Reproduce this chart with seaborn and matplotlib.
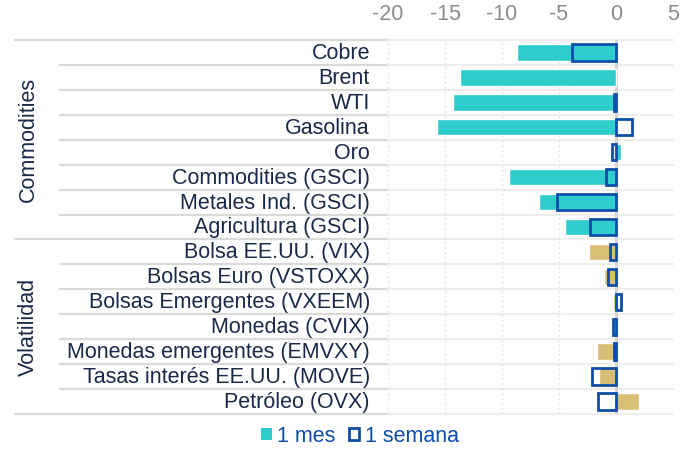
import pandas as pd
import matplotlib.pyplot as plt
import matplotlib.transforms as mtransforms
from matplotlib.patches import Patch
import seaborn as sns

# Datos (variación, puntos)
categorias = ["Cobre", "Brent", "WTI", "Gasolina", "Oro", "Commodities (GSCI)",
              "Metales Ind. (GSCI)", "Agricultura (GSCI)",
              "Bolsa EE.UU. (VIX)", "Bolsas Euro (VSTOXX)", "Bolsas Emergentes (VXEEM)",
              "Monedas (CVIX)", "Monedas emergentes (EMVXY)",
              "Tasas interés EE.UU. (MOVE)", "Petróleo (OVX)"]
grupos = ["Commodities"] * 8 + ["Volatilidad"] * 7
mes_1 = [-8.7, -13.7, -14.3, -15.7, 0.4, -9.4, -6.75, -4.5,
         -2.4, -1.05, -0.25, 0.0, -1.65, -1.5, 2.0]
semana_1 = [-3.9, None, -0.2, 1.4, -0.35, -0.9, -5.2, -2.3,
            -0.55, -0.7, 0.4, -0.3, -0.2, -2.1, -1.6]
ticks_x = [-20, -15, -10, -5, 0, 5]

turquesa = "#2ECCCC"
arena = "#D9BE76"
azul = "#0F4EA8"
texto = "#1A2947"
gris = "#8C8C8C"
fs = 15.5

df = pd.DataFrame({"Categoria": categorias, "Grupo": grupos,
                   "1 mes": mes_1, "1 semana": semana_1})

sns.set_theme(style="white")
plt.rcParams['font.family'] = ['Liberation Sans', 'DejaVu Sans']
plt.rcParams['axes.unicode_minus'] = False

W, H = 687, 449
fig = plt.figure(figsize=(W / 100, H / 100), dpi=100)
ax = fig.add_axes([388 / W, 1 - 414 / H, 285 / W, 374 / H])

# Rejilla vertical y línea del cero
for t in ticks_x:
    if t == 0:
        ax.axvline(0, color="#D6D6D6", lw=2.2, zorder=2)
    else:
        ax.axvline(t, color="#E4E4E4", lw=1, ls=(0, (1.5, 2)), zorder=1)

sns.barplot(data=df, y="Categoria", x="1 mes", hue="Grupo",
            palette={"Commodities": turquesa, "Volatilidad": arena},
            dodge=False, saturation=1, width=0.66, legend=False,
            errorbar=None, ax=ax, zorder=3)
sns.barplot(data=df, y="Categoria", x="1 semana", fill=False, color=azul,
            width=0.66, linewidth=2.0, errorbar=None, ax=ax, zorder=4)

ax.set_xlim(-20, 5)
ax.set_ylim(14.5, -0.5)
ax.set_xticks(ticks_x)
ax.xaxis.tick_top()
ax.tick_params(axis="x", length=0, pad=11, labelsize=fs, labelcolor=gris)
ax.tick_params(axis="y", length=0, pad=13, labelsize=fs, labelcolor=texto)
ax.set_xlabel("")
ax.set_ylabel("")
for s in ax.spines.values():
    s.set_visible(False)

# subir un poco las etiquetas de categoría
subir = mtransforms.ScaledTranslation(0, 1.5 / 100, fig.dpi_scale_trans)
for lbl in ax.get_yticklabels():
    lbl.set_transform(lbl.get_transform() + subir)

# Líneas separadoras tipo tabla
trans = mtransforms.blended_transform_factory(fig.transFigure, ax.transData)
for i in range(16):
    y = i - 0.5
    x0 = 15 if i in (0, 8, 15) else 60
    ax.plot([x0 / W, 388 / W], [y, y], color="#D9D9D9", lw=1.6,
            transform=trans, clip_on=False, zorder=0.2)
    ax.plot([388 / W, 673 / W], [y, y], color="#EEEEEE", lw=1.6,
            transform=trans, clip_on=False, zorder=0.2)

ax.text(28 / W, 3.5, "Commodities", rotation=90, ha="center", va="center",
        fontsize=fs, color=texto, transform=trans)
ax.text(28 / W, 11, "Volatilidad", rotation=90, ha="center", va="center",
        fontsize=fs, color=texto, transform=trans)

handles = [Patch(facecolor=turquesa, edgecolor="none", label="1 mes"),
           Patch(facecolor="white", edgecolor=azul, lw=2, label="1 semana")]
fig.legend(handles=handles, loc="center", bbox_to_anchor=(360 / W, 1 - 436 / H),
           ncol=2, frameon=False, fontsize=fs, labelcolor=azul,
           handlelength=0.5, handleheight=0.5, handletextpad=0.25,
           columnspacing=0.6, borderpad=0)

fig.savefig("out.png", dpi=100)
